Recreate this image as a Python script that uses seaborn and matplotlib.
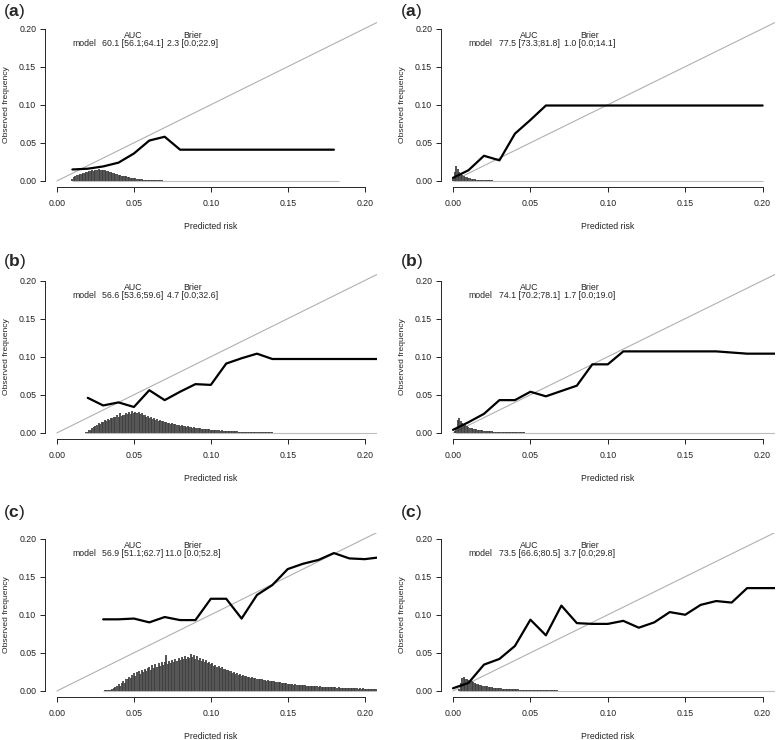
import numpy as np
import matplotlib
matplotlib.use("Agg")
import matplotlib.pyplot as plt
import seaborn as sns

# calibration curves (predicted risk -> observed frequency)
a_left_risk = [0.01, 0.02, 0.03, 0.04, 0.05, 0.06, 0.07, 0.08, 0.18]
a_left_obs = [0.015, 0.016, 0.019, 0.024, 0.036, 0.053, 0.058, 0.041, 0.041]
a_right_risk = [0.0, 0.01, 0.02, 0.03, 0.04, 0.05, 0.06, 0.20]
a_right_obs = [0.004, 0.014, 0.033, 0.027, 0.062, 0.080, 0.099, 0.099]
b_left_risk = [0.02, 0.03, 0.04, 0.05, 0.06, 0.07, 0.08, 0.09, 0.10, 0.11, 0.12, 0.13, 0.14, 0.208]
b_left_obs = [0.046, 0.036, 0.040, 0.034, 0.056, 0.043, 0.054, 0.064, 0.063, 0.091, 0.098, 0.104, 0.097, 0.097]
b_right_risk = [0.0, 0.01, 0.02, 0.03, 0.04, 0.05, 0.06, 0.07, 0.08, 0.09, 0.10, 0.11, 0.17, 0.19, 0.208]
b_right_obs = [0.004, 0.014, 0.025, 0.043, 0.043, 0.054, 0.048, 0.055, 0.062, 0.090, 0.090, 0.107, 0.107, 0.104, 0.104]
c_left_risk = [0.03, 0.04, 0.05, 0.06, 0.07, 0.08, 0.09, 0.10, 0.11, 0.12, 0.13, 0.14,
               0.15, 0.16, 0.17, 0.18, 0.19, 0.20, 0.208]
c_left_obs = [0.094, 0.094, 0.095, 0.090, 0.097, 0.093, 0.093, 0.121, 0.121, 0.095, 0.126, 0.139,
              0.160, 0.167, 0.172, 0.181, 0.174, 0.173, 0.175]
c_right_risk = [0.0, 0.01, 0.02, 0.03, 0.04, 0.05, 0.06, 0.07, 0.08, 0.09, 0.10, 0.11, 0.12,
                0.13, 0.14, 0.15, 0.16, 0.17, 0.18, 0.19, 0.20, 0.208]
c_right_obs = [0.0035, 0.0105, 0.0345, 0.042, 0.059, 0.0935, 0.073, 0.112, 0.089, 0.088, 0.088, 0.092, 0.083,
               0.090, 0.1035, 0.100, 0.113, 0.118, 0.116, 0.135, 0.135, 0.135]

# histograms of predicted risk (bins of 0.001, first bin, heights, end of range)
a_left_hist_start, a_left_hist_end = 0.010, 0.183
a_left_hist = [0.0030, 0.0052, 0.0064, 0.0078, 0.0083, 0.0094, 0.0096, 0.0107, 0.0108, 0.0119,
               0.0120, 0.0130, 0.0127, 0.0137, 0.0134, 0.0142, 0.0140, 0.0150, 0.0146, 0.0148,
               0.0138, 0.0139, 0.0126, 0.0128, 0.0115, 0.0114, 0.0104, 0.0102, 0.0092, 0.0090,
               0.0082, 0.0080, 0.0070, 0.0069, 0.0060, 0.0058, 0.0050, 0.0049, 0.0043, 0.0041,
               0.0035, 0.0033, 0.0028, 0.0027, 0.0022, 0.0022, 0.0018, 0.0018, 0.0015, 0.0014,
               0.0012, 0.0012, 0.0010, 0.0010, 0.0008, 0.0008, 0.0007, 0.0006, 0.0006, 0.0005,
               0.0005, 0.0004, 0.0004, 0.0003, 0.0003, 0.0003]
a_right_hist_start, a_right_hist_end = 0.000, 0.200
a_right_hist = [0.0040, 0.0120, 0.0200, 0.0160, 0.0120, 0.0095, 0.0078, 0.0064, 0.0053, 0.0045,
                0.0038, 0.0032, 0.0028, 0.0024, 0.0021, 0.0018, 0.0016, 0.0014, 0.0012, 0.0011,
                0.0010, 0.0009, 0.0008, 0.0007, 0.0007, 0.0006, 0.0005, 0.0005, 0.0004, 0.0004,
                0.0003, 0.0003, 0.0003, 0.0002, 0.0002, 0.0002, 0.0002, 0.0001, 0.0001, 0.0001]
b_left_hist_start, b_left_hist_end = 0.018, 0.208
b_left_hist = [0.0004, 0.0010, 0.0018, 0.0032, 0.0042, 0.0065, 0.0072, 0.0095, 0.0100, 0.0125,
               0.0122, 0.0145, 0.0140, 0.0170, 0.0160, 0.0185, 0.0175, 0.0200, 0.0190, 0.0215,
               0.0205, 0.0230, 0.0210, 0.0255, 0.0225, 0.0240, 0.0230, 0.0260, 0.0245, 0.0270,
               0.0250, 0.0290, 0.0265, 0.0280, 0.0255, 0.0270, 0.0245, 0.0255, 0.0230, 0.0240,
               0.0215, 0.0225, 0.0200, 0.0210, 0.0185, 0.0195, 0.0172, 0.0180, 0.0160, 0.0168,
               0.0150, 0.0155, 0.0140, 0.0145, 0.0130, 0.0136, 0.0122, 0.0126, 0.0112, 0.0118,
               0.0104, 0.0108, 0.0096, 0.0100, 0.0088, 0.0092, 0.0082, 0.0085, 0.0075, 0.0078,
               0.0070, 0.0072, 0.0064, 0.0066, 0.0058, 0.0061, 0.0054, 0.0056, 0.0049, 0.0052,
               0.0045, 0.0047, 0.0041, 0.0043, 0.0037, 0.0039, 0.0034, 0.0036, 0.0031, 0.0032,
               0.0028, 0.0030, 0.0026, 0.0027, 0.0023, 0.0025, 0.0021, 0.0022, 0.0019, 0.0020,
               0.0017, 0.0018, 0.0015, 0.0016, 0.0014, 0.0015, 0.0012, 0.0013, 0.0011, 0.0012,
               0.0010, 0.0011, 0.0009, 0.0010, 0.0008, 0.0009, 0.0008, 0.0008, 0.0007, 0.0007,
               0.0006, 0.0006, 0.0005]
b_right_hist_start, b_right_hist_end = 0.001, 0.208
b_right_hist = [0.0020, 0.0060, 0.0170, 0.0200, 0.0160, 0.0130, 0.0110, 0.0098, 0.0088, 0.0078,
                0.0068, 0.0060, 0.0055, 0.0050, 0.0046, 0.0042, 0.0038, 0.0035, 0.0032, 0.0030,
                0.0027, 0.0025, 0.0023, 0.0021, 0.0020, 0.0018, 0.0017, 0.0016, 0.0015, 0.0014,
                0.0013, 0.0012, 0.0011, 0.0010, 0.0010, 0.0009, 0.0009, 0.0008, 0.0008, 0.0007,
                0.0007, 0.0006, 0.0006, 0.0005, 0.0005, 0.0005, 0.0004, 0.0004, 0.0004, 0.0003]
c_left_hist_start, c_left_hist_end = 0.030, 0.208
c_left_hist = [0.0005, 0.0008, 0.0006, 0.0010, 0.0012, 0.0015, 0.0025, 0.0032, 0.0045, 0.0060,
               0.0085, 0.0070, 0.0110, 0.0125, 0.0105, 0.0160, 0.0150, 0.0185, 0.0170, 0.0205,
               0.0230, 0.0195, 0.0245, 0.0260, 0.0225, 0.0275, 0.0250, 0.0290, 0.0265, 0.0305,
               0.0320, 0.0280, 0.0335, 0.0300, 0.0350, 0.0315, 0.0360, 0.0330, 0.0375, 0.0340,
               0.0385, 0.0465, 0.0355, 0.0395, 0.0370, 0.0410, 0.0380, 0.0420, 0.0395, 0.0435,
               0.0405, 0.0440, 0.0415, 0.0460, 0.0425, 0.0450, 0.0430, 0.0490, 0.0440, 0.0470,
               0.0420, 0.0455, 0.0410, 0.0430, 0.0395, 0.0415, 0.0380, 0.0400, 0.0365, 0.0375,
               0.0350, 0.0360, 0.0330, 0.0345, 0.0315, 0.0325, 0.0300, 0.0310, 0.0285, 0.0290,
               0.0270, 0.0275, 0.0255, 0.0260, 0.0240, 0.0250, 0.0225, 0.0235, 0.0210, 0.0220,
               0.0200, 0.0205, 0.0190, 0.0198, 0.0180, 0.0188, 0.0172, 0.0178, 0.0165, 0.0170,
               0.0158, 0.0162, 0.0150, 0.0155, 0.0142, 0.0148, 0.0136, 0.0140, 0.0130, 0.0134,
               0.0124, 0.0128, 0.0118, 0.0121, 0.0112, 0.0115, 0.0105, 0.0109, 0.0099, 0.0102,
               0.0094, 0.0096, 0.0088, 0.0091, 0.0083, 0.0086, 0.0079, 0.0082, 0.0075, 0.0078,
               0.0072, 0.0074, 0.0068, 0.0071, 0.0065, 0.0068, 0.0062, 0.0064, 0.0059, 0.0061,
               0.0057, 0.0059, 0.0054, 0.0056, 0.0051, 0.0054, 0.0049, 0.0051, 0.0047, 0.0050,
               0.0045, 0.0048, 0.0043, 0.0046, 0.0041, 0.0043, 0.0039, 0.0042, 0.0037, 0.0040,
               0.0036, 0.0038, 0.0034, 0.0036, 0.0032, 0.0035, 0.0031, 0.0033, 0.0029, 0.0032,
               0.0028, 0.0030, 0.0027, 0.0029, 0.0026, 0.0028, 0.0025, 0.0030, 0.0028]
c_right_hist_start, c_right_hist_end = 0.004, 0.208
c_right_hist = [0.0030, 0.0100, 0.0170, 0.0186, 0.0160, 0.0150, 0.0146, 0.0135, 0.0125, 0.0115,
                0.0104, 0.0097, 0.0090, 0.0083, 0.0076, 0.0070, 0.0066, 0.0062, 0.0058, 0.0054,
                0.0050, 0.0047, 0.0044, 0.0042, 0.0039, 0.0037, 0.0035, 0.0033, 0.0031, 0.0030,
                0.0028, 0.0027, 0.0025, 0.0024, 0.0023, 0.0022, 0.0021, 0.0020, 0.0019, 0.0018,
                0.0017, 0.0016, 0.0015, 0.0015, 0.0014, 0.0013, 0.0013, 0.0012, 0.0012, 0.0011,
                0.0011, 0.0010, 0.0010, 0.0009, 0.0009, 0.0008, 0.0008, 0.0008, 0.0007, 0.0007,
                0.0007, 0.0006, 0.0006, 0.0006, 0.0005, 0.0005, 0.0005, 0.0005, 0.0004, 0.0004]

# AUC / Brier summaries
panel_letters = ["a", "a", "b", "b", "c", "c"]
auc_text = ["60.1 [56.1;64.1]", "77.5 [73.3;81.8]", "56.6 [53.6;59.6]",
            "74.1 [70.2;78.1]", "56.9 [51.1;62.7]", "73.5 [66.6;80.5]"]
brier_text = ["2.3 [0.0;22.9]", "1.0 [0.0;14.1]", "4.7 [0.0;32.6]",
              "1.7 [0.0;19.0]", "11.0 [0.0;52.8]", "3.7 [0.0;29.8]"]

curves = [(a_left_risk, a_left_obs), (a_right_risk, a_right_obs),
          (b_left_risk, b_left_obs), (b_right_risk, b_right_obs),
          (c_left_risk, c_left_obs), (c_right_risk, c_right_obs)]
hists = [(a_left_hist_start, a_left_hist, a_left_hist_end),
         (a_right_hist_start, a_right_hist, a_right_hist_end),
         (b_left_hist_start, b_left_hist, b_left_hist_end),
         (b_right_hist_start, b_right_hist, b_right_hist_end),
         (c_left_hist_start, c_left_hist, c_left_hist_end),
         (c_right_hist_start, c_right_hist, c_right_hist_end)]

sns.set_style("ticks")
plt.rcParams["font.family"] = ["Liberation Sans", "DejaVu Sans"]
plt.rcParams["mathtext.fontset"] = "custom"
plt.rcParams["mathtext.rm"] = "Liberation Sans"
plt.rcParams["mathtext.bf"] = "Liberation Sans:bold"

fig = plt.figure(figsize=(7.8, 7.4), dpi=100)

col_x = [0.0573, 0.5649]
col_w = [0.426, 0.4287]
row_y = [0.7473, 0.4068, 0.0581]
row_h = 0.2223
letter_x = [0.004, 0.513]
letter_y = [0.984, 0.647, 0.307]

ticks = [0.0, 0.05, 0.10, 0.15, 0.20]
lim = (-0.008, 0.208)

for i in range(6):
    r, c = divmod(i, 2)
    ax = fig.add_axes([col_x[c], row_y[r], col_w[c], row_h])
    ax.set_xlim(lim)
    ax.set_ylim(lim)

    # diagonal of perfect calibration
    ax.plot([0, lim[1]], [0, lim[1]], color="#b0b0b0", lw=0.8, zorder=1)

    # histogram of predicted risks as thin spikes
    start, heights, end = hists[i]
    hx = start + 0.001 * np.arange(len(heights))
    ax.hlines(0, start, end, color="#bdbdbd", lw=0.8, zorder=1)
    ax.vlines(hx, 0, heights, color="#3d3d3d", lw=1.25, zorder=2)

    risk, obs = curves[i]
    sns.lineplot(x=risk, y=obs, ax=ax, color="black", lw=1.6, zorder=3)

    ax.set_xticks(ticks)
    ax.set_yticks(ticks)
    ax.set_xticklabels([f"{t:.2f}" for t in ticks])
    ax.set_yticklabels([f"{t:.2f}" for t in ticks])
    ax.tick_params(direction="out", length=3.6, width=0.7, labelsize=6.3, colors="#222222")
    ax.tick_params(axis="x", pad=5)
    ax.tick_params(axis="y", pad=2.5)
    for s in ["top", "right"]:
        ax.spines[s].set_visible(False)
    ax.spines["left"].set_bounds(0, 0.2)
    ax.spines["bottom"].set_bounds(0, 0.2)
    ax.spines["left"].set_linewidth(0.7)
    ax.spines["bottom"].set_linewidth(0.7)

    ax.set_xlabel("Predicted risk", fontsize=6.3)
    ax.set_ylabel("Observed frequency", fontsize=6.1)
    ax.xaxis.set_label_coords(0.5, -0.212)
    ax.yaxis.set_label_coords(-0.105, 0.5)

    ax.text(0.155, 0.873, "model", transform=ax.transAxes, ha="right", va="center", fontsize=6.3)
    ax.text(0.266, 0.921, "AUC", transform=ax.transAxes, ha="center", va="center", fontsize=6.3)
    ax.text(0.266, 0.873, auc_text[i], transform=ax.transAxes, ha="center", va="center", fontsize=6.3)
    ax.text(0.445, 0.921, "Brier", transform=ax.transAxes, ha="center", va="center", fontsize=6.3)
    ax.text(0.445, 0.873, brier_text[i], transform=ax.transAxes, ha="center", va="center", fontsize=6.3)

    fig.text(letter_x[c], letter_y[r], "($\\mathbf{" + panel_letters[i] + "}$)",
             ha="left", va="center", fontsize=12.5)

fig.savefig("out.png", dpi=100)
